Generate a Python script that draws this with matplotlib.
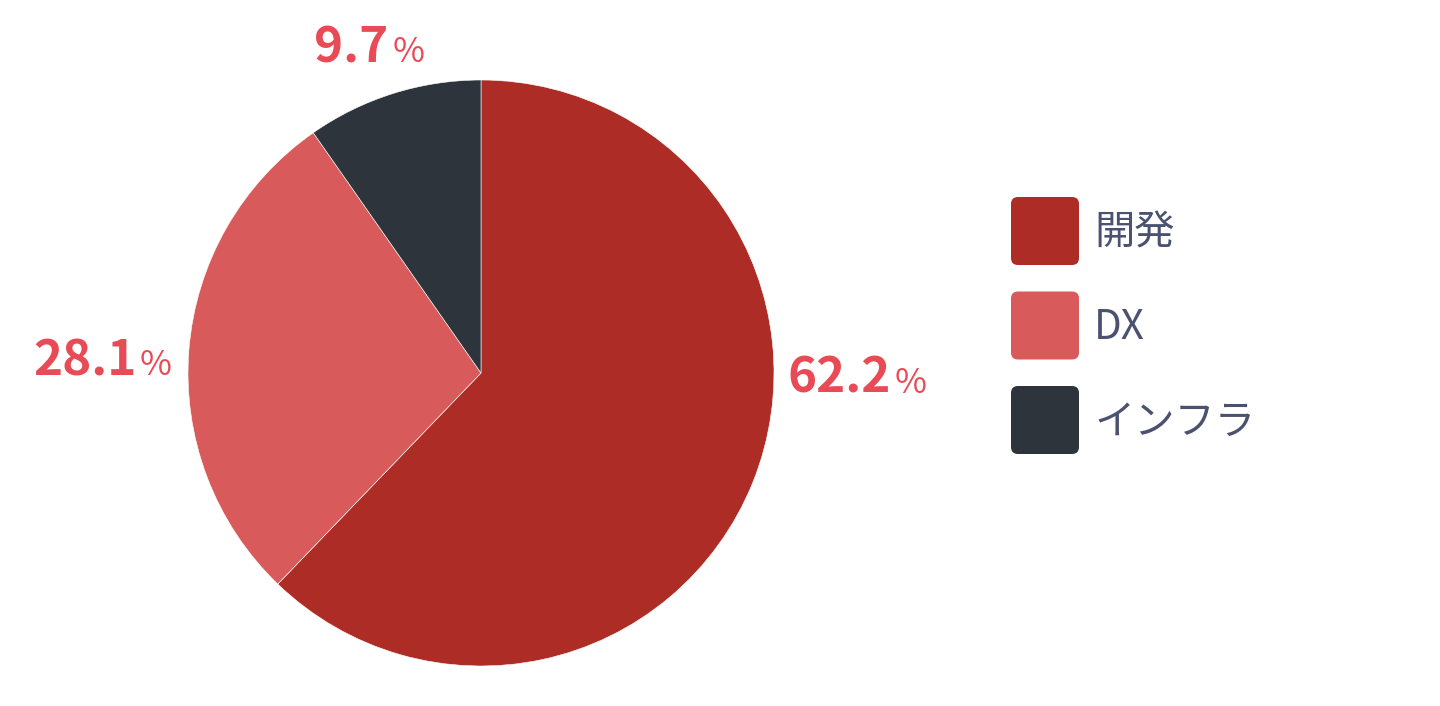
import matplotlib
matplotlib.use("Agg")
import matplotlib.pyplot as plt
from matplotlib.patches import FancyBboxPatch

plt.rcParams["font.family"] = ["Noto Sans CJK JP", "DejaVu Sans"]

categories = ["開発", "DX", "インフラ"]
shares = [62.2, 28.1, 9.7]
colors = ["#AD2D26", "#D95A5B", "#2D343C"]
label_color = "#E84B55"
legend_text_color = "#4A5270"

# where each percent label sits (pie radius units): right edge of number, baseline
label_pos = [(1.40, -0.068), (-1.176, -0.007), (-0.315, 1.061)]

W, H = 1440, 706
fig = plt.figure(figsize=(W / 100, H / 100), dpi=100)

cx, cy, r = 481, 373, 293
ax = fig.add_axes([(cx - r) / W, (H - cy - r) / H, 2 * r / W, 2 * r / H])
ax.pie(shares, colors=colors, startangle=90, counterclock=False, radius=1,
       wedgeprops=dict(edgecolor="white", linewidth=0.4))
ax.set_xlim(-1, 1)
ax.set_ylim(-1, 1)
ax.set_aspect("auto")
ax.axis("off")

for val, (lx, ly) in zip(shares, label_pos):
    ax.text(lx, ly, "{:.1f}".format(val), ha="right", va="baseline",
            fontsize=35.5, fontweight="bold", color=label_color, clip_on=False)
    ax.text(lx + 0.012, ly, "%", ha="left", va="baseline",
            fontsize=25, color=label_color, clip_on=False)

# legend drawn in pixel space
lax = fig.add_axes([0, 0, 1, 1], zorder=-1)
lax.set_xlim(0, W)
lax.set_ylim(H, 0)
lax.axis("off")
box = 68
for i, (name, c) in enumerate(zip(categories, colors)):
    top = 197 + i * 94.5
    lax.add_patch(FancyBboxPatch((1011 + 7, top + 7), box - 14, box - 14,
                                 boxstyle="round,pad=7", facecolor=c, edgecolor="none"))
    lax.text(1094, top + box / 2 + 2, name, ha="left", va="center",
             fontsize=29, color=legend_text_color)

fig.savefig("out.png", dpi=100)
